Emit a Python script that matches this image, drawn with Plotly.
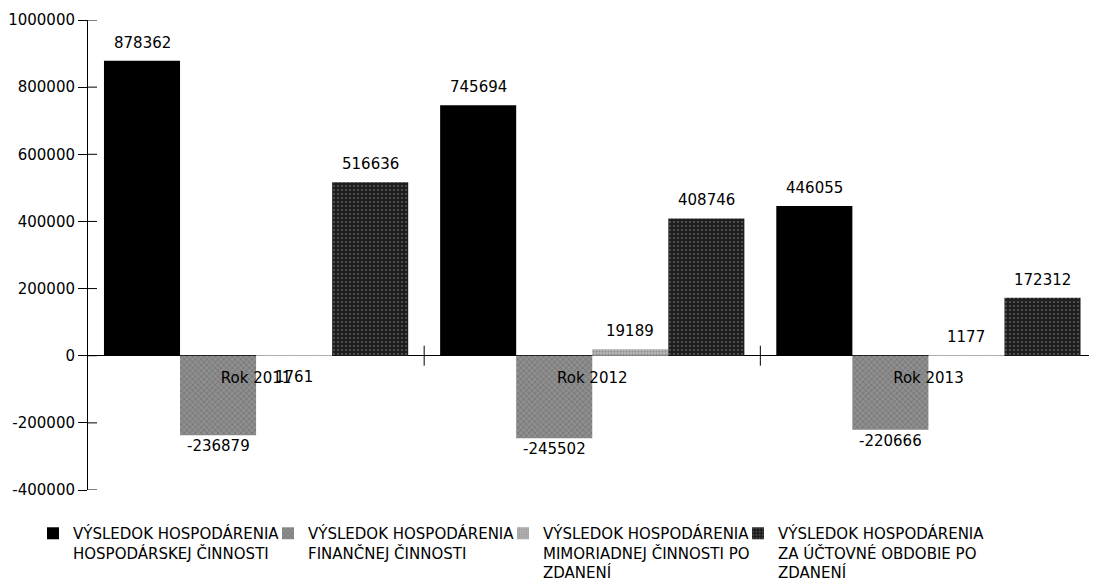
import plotly.graph_objects as go

categories = ["Rok 2011", "Rok 2012", "Rok 2013"]
series_names = [
    "VÝSLEDOK HOSPODÁRENIA<br>HOSPODÁRSKEJ ČINNOSTI",
    "VÝSLEDOK HOSPODÁRENIA<br>FINANČNEJ ČINNOSTI",
    "VÝSLEDOK HOSPODÁRENIA<br>MIMORIADNEJ ČINNOSTI PO<br>ZDANENÍ",
    "VÝSLEDOK HOSPODÁRENIA<br>ZA ÚČTOVNÉ OBDOBIE PO<br>ZDANENÍ",
]
hosp = [878362, 745694, 446055]
fin = [-236879, -245502, -220666]
mimo = [1761, 19189, 1177]
obdobie = [516636, 408746, 172312]
y_ticks = [-400000, -200000, 0, 200000, 400000, 600000, 800000, 1000000]

series = [hosp, fin, mimo, obdobie]
styles = [
    dict(color="#000000"),
    dict(color="#8f8f8f", pattern=dict(shape="x", fgcolor="#4a4a4a", size=4, solidity=0.3)),
    dict(color="#b4b4b4", pattern=dict(shape=".", fgcolor="#6a6a6a", size=3, solidity=0.3)),
    dict(color="#1e1e1e", pattern=dict(shape=".", fgcolor="#9a9a9a", size=4, solidity=0.2)),
]
# labels that the original drew under the axis (series index, category index)
labels_below = {(2, 0)}
# left edges of the four legend entries (fraction of plot width)
legend_x = [-0.0545, 0.1784, 0.4113, 0.6442]

BARGAP = 0.095
NUM_FONT = dict(family="DejaVu Sans", size=15, color="black")
LEG_FONT = dict(family="DejaVu Sans", size=15, color="black")

fig = go.Figure()
legend_ids = ["legend"] + [f"legend{k}" for k in range(2, len(series) + 1)]
for name, vals, st, lid in zip(series_names, series, styles, legend_ids):
    fig.add_trace(go.Bar(
        x=categories, y=vals, name=name, legend=lid,
        marker=dict(line=dict(width=0), **st),
        cliponaxis=False,
    ))

# value labels, placed at bar centres on the category scale
bw = (1 - BARGAP) / len(series)
annotations = []
for j, vals in enumerate(series):
    for i, v in enumerate(vals):
        xc = i + (j - (len(series) - 1) / 2) * bw
        below = v < 0 or (j, i) in labels_below
        annotations.append(dict(
            x=xc, y=min(v, 0) if below else v, xref="x", yref="y",
            text=str(v), showarrow=False, font=NUM_FONT,
            xanchor="center", yanchor="top" if below else "bottom",
            yshift=0 if v < 0 else (-10 if below else 7),
        ))

shapes = []
# upward halves of the crossing ticks on the category axis
for i in range(1, len(categories) + 1):
    shapes.append(dict(type="line", xref="x", yref="y", x0=i - 0.5, x1=i - 0.5,
                       ysizemode="pixel", yanchor=0, y0=-10, y1=10,
                       line=dict(color="black", width=1)))
# inner halves of y ticks
for v in y_ticks:
    shapes.append(dict(type="line", xref="paper", yref="y", xsizemode="pixel", xanchor=0,
                       x0=0, x1=9, y0=v, y1=v, line=dict(color="black", width=1)))

legend_layout = {}
for lid, lx in zip(legend_ids, legend_x):
    legend_layout[lid] = dict(orientation="h", x=lx, xanchor="left", y=-0.0575, yanchor="top",
                              valign="top", font=LEG_FONT, itemwidth=30,
                              bgcolor="rgba(0,0,0,0)")

fig.update_layout(
    width=1089, height=590,
    margin=dict(l=80, r=0, t=12, b=108),
    paper_bgcolor="white", plot_bgcolor="white",
    barmode="group", bargap=BARGAP, bargroupgap=0,
    showlegend=True,
    xaxis=dict(anchor="free", position=400000 / 1400000, showline=False, automargin=False,
               ticks="", showgrid=False, tickfont=NUM_FONT, ticklabelstandoff=11),
    yaxis=dict(range=[-400000, 1000000], tickvals=y_ticks, ticktext=[str(v) for v in y_ticks],
               showline=True, linecolor="black", linewidth=1, ticks="outside", ticklen=9,
               tickcolor="black", showgrid=False, zeroline=True, zerolinecolor="black",
               zerolinewidth=1, automargin=False, tickfont=NUM_FONT),
    shapes=shapes,
    annotations=annotations,
    font=dict(family="DejaVu Sans", color="black"),
    **legend_layout,
)

fig.write_html("out.html")
